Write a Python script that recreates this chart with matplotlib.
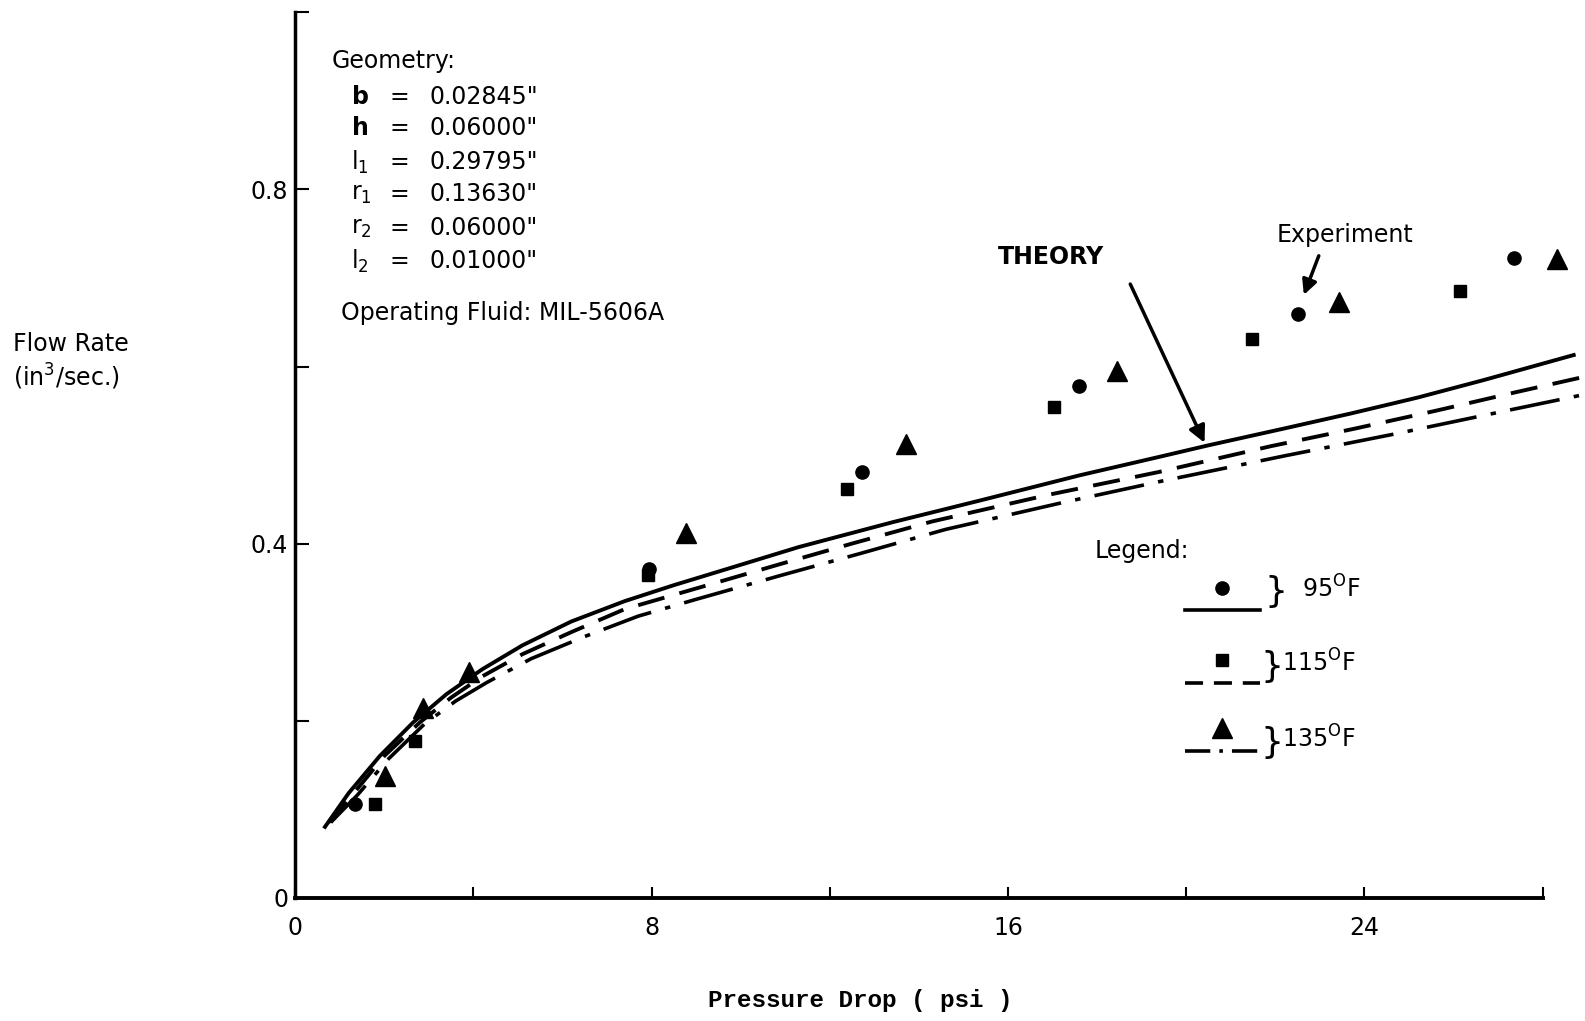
# -*- coding: utf-8 -*-
# Flow rate vs pressure drop: theory curves and experimental points
import matplotlib.pyplot as plt
import numpy as np

# Experimental points, one set per oil temperature
x_95 = [1.34, 7.94, 12.73, 17.59, 22.51, 27.37]
y_95 = [0.106, 0.371, 0.481, 0.578, 0.659, 0.723]

x_115 = [1.79, 2.68, 7.92, 12.39, 17.04, 21.47, 26.14]
y_115 = [0.106, 0.177, 0.364, 0.462, 0.554, 0.631, 0.685]

x_135 = [2.02, 2.88, 3.90, 8.78, 13.71, 18.45, 23.44, 28.32]
y_135 = [0.137, 0.214, 0.255, 0.412, 0.513, 0.595, 0.673, 0.721]

# Theory curves
tx_95 = [0.67, 1.2, 1.9, 2.65, 3.4, 4.2, 5.1, 6.2, 7.4, 8.5, 10.0, 11.3,
         13.4, 15.4, 17.6, 19.4, 20.5, 22.2, 23.7, 25.2, 26.7, 28.7]
ty_95 = [0.080, 0.118, 0.160, 0.198, 0.230, 0.258, 0.285, 0.312, 0.335, 0.353, 0.376, 0.396,
         0.424, 0.449, 0.477, 0.498, 0.511, 0.530, 0.547, 0.565, 0.585, 0.613]

tx_115 = [0.75, 1.3, 2.0, 2.8, 3.5, 4.2, 5.1, 6.2, 7.4, 8.5, 9.6, 10.9,
          12.5, 14.3, 16.9, 19.4, 21.9, 23.8, 25.6, 27.4, 28.9]
ty_115 = [0.085, 0.117, 0.160, 0.198, 0.226, 0.250, 0.275, 0.300, 0.326, 0.342, 0.358, 0.377,
          0.400, 0.425, 0.455, 0.481, 0.510, 0.530, 0.550, 0.571, 0.588]

tx_135 = [0.8, 1.4, 2.1, 2.9, 3.6, 4.3, 5.3, 6.5, 7.7, 9.0, 10.9, 12.7,
          14.6, 17.2, 19.4, 22.2, 24.8, 26.7, 28.9]
ty_135 = [0.085, 0.116, 0.157, 0.196, 0.222, 0.243, 0.270, 0.295, 0.318, 0.337, 0.364, 0.389,
          0.416, 0.446, 0.470, 0.499, 0.525, 0.545, 0.568]

x_ticks = [0, 4, 8, 12, 16, 20, 24, 28]
x_ticklabels = ['0', '', '8', '', '16', '', '24', '']
y_ticks = [0, 0.2, 0.4, 0.6, 0.8, 1.0]
y_ticklabels = ['0', '', '0.4', '', '0.8', '']

geometry = [(r'$\mathbf{b}$', '0.02845"'),
            (r'$\mathbf{h}$', '0.06000"'),
            (r'l$_1$', '0.29795"'),
            (r'r$_1$', '0.13630"'),
            (r'r$_2$', '0.06000"'),
            (r'l$_2$', '0.01000"')]

plt.rcParams['font.family'] = 'DejaVu Sans'
plt.rcParams['mathtext.fontset'] = 'dejavusans'
FS = 17

fig = plt.figure(figsize=(15.85, 10.21), dpi=100)
ax = fig.add_axes([0.1862, 0.1208, 0.787, 0.867])

# theory lines
ax.plot(tx_95, ty_95, '-', color='black', lw=2.8, clip_on=False)
ax.plot(tx_115, ty_115, color='black', lw=2.8, dashes=(7, 4), clip_on=False)
ax.plot(tx_135, ty_135, color='black', lw=2.6, dashes=(14, 4, 1.5, 4), clip_on=False)

# experiment
ax.plot(x_95, y_95, 'o', color='black', ms=9.5, clip_on=False)
ax.plot(x_115, y_115, 's', color='black', ms=8.5, clip_on=False)
ax.plot(x_135, y_135, '^', color='black', ms=14, clip_on=False)

ax.set_xlim(0, 28)
ax.set_ylim(0, 1.0)
ax.spines['top'].set_visible(False)
ax.spines['right'].set_visible(False)
ax.spines['left'].set_linewidth(2.5)
ax.spines['bottom'].set_linewidth(2.8)

ax.set_xticks(x_ticks)
ax.set_xticklabels(x_ticklabels)
ax.set_yticks(y_ticks)
ax.set_yticklabels(y_ticklabels)
ax.tick_params(axis='x', direction='in', length=8, width=1.5, labelsize=FS, pad=13)
ax.tick_params(axis='y', direction='in', length=10, width=1.5, labelsize=FS, pad=5)

ax.set_xlabel('Pressure Drop ( psi )', family='Liberation Mono', fontweight='bold',
              fontsize=17.5, va='center')
ax.xaxis.set_label_coords(0.453, -0.1164)
ax.set_ylabel('Flow Rate\n(in$^3$/sec.)', rotation=0, fontsize=FS, ha='left', va='center',
              multialignment='left', linespacing=1.25)
ax.yaxis.set_label_coords(-0.226, 0.605)

# geometry block
ax.text(0.82, 0.945, 'Geometry:', fontsize=FS, va='center')
row_y = [0.905, 0.869, 0.831, 0.795, 0.757, 0.719]
for (name, val), yy in zip(geometry, row_y):
    ax.text(1.25, yy, name, fontsize=FS, va='center')
    ax.text(2.34, yy, '=', fontsize=FS, va='center', ha='center')
    ax.text(3.02, yy, val, fontsize=FS, va='center')
ax.text(1.02, 0.661, 'Operating Fluid: MIL-5606A', fontsize=FS, va='center')

# annotations
ax.text(16.97, 0.724, 'THEORY', fontsize=FS, fontweight='bold', ha='center', va='center')
ax.annotate('', xy=(20.44, 0.511), xytext=(18.72, 0.696),
            arrowprops=dict(arrowstyle='-|>', lw=2.5, color='black', mutation_scale=25))
ax.text(22.03, 0.749, 'Experiment', fontsize=FS, va='center')
ax.annotate('', xy=(22.62, 0.678), xytext=(23.0, 0.728),
            arrowprops=dict(arrowstyle='-|>', lw=2.5, color='black', mutation_scale=22))

# legend block
ax.text(17.95, 0.392, 'Legend:', fontsize=FS, va='center')
key_x = np.array([19.97, 21.65])
keys = [('o', 9.5, dict(ls='-'), 0.350, 0.325, '95$^{\\mathrm{O}}$F', 22.01, 22.6, 0.349),
        ('s', 8.5, dict(dashes=(5, 3)), 0.268, 0.243, '115$^{\\mathrm{O}}$F', 21.92, 22.15, 0.265),
        ('^', 14, dict(dashes=(7, 2.5, 1, 2.5)), 0.192, 0.166, '135$^{\\mathrm{O}}$F', 21.92, 22.15, 0.179)]
for mk, ms, style, my, ly, label, bx, lx, ty in keys:
    ax.plot([key_x.mean()], [my], mk, color='black', ms=ms)
    ax.plot(key_x, [ly, ly], color='black', lw=2.6, **style)
    ax.text(bx, ty - 0.004, '}', fontsize=26, va='center', ha='center')
    ax.text(lx, ty, label, fontsize=FS, va='center')

fig.savefig('out.png', dpi=100)
